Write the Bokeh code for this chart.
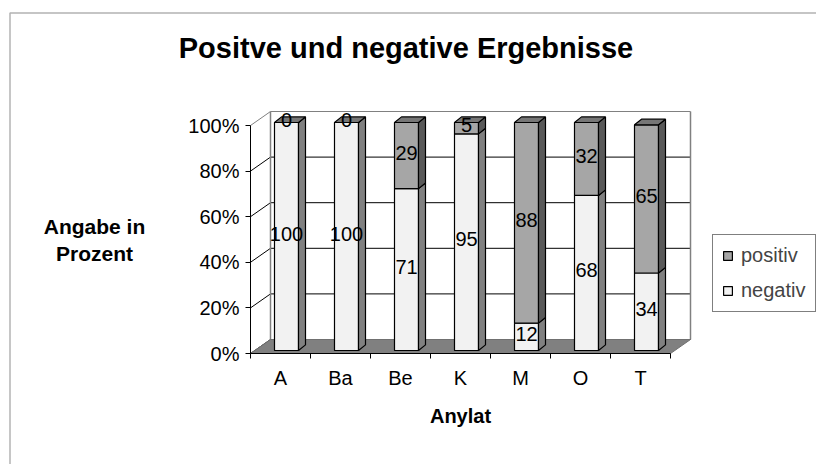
from bokeh.plotting import figure
from bokeh.models import (Range1d, FixedTicker, LinearAxis, ColumnDataSource, Label,
                          Legend, LegendItem, BoxAnnotation)
from bokeh.embed import file_html
from bokeh.resources import INLINE
from bokeh.core.properties import value

# ---------------- data ----------------
categories = ["A", "Ba", "Be", "K", "M", "O", "T"]
negativ = [100, 100, 71, 95, 12, 68, 34]
positiv = [0, 0, 29, 5, 88, 32, 65]
y_ticks = [0, 20, 40, 60, 80, 100]
y_tick_labels = ["0%", "20%", "40%", "60%", "80%", "100%"]
title_text = "Positve und negative Ergebnisse"
x_title = "Anylat"
y_title = ["Angabe in", "Prozent"]
series_names = ["positiv", "negativ"]

# ---------------- style / geometry ----------------
FONT = "Liberation Sans"
W, H = 816, 464
PXX, PXY = 60.0, 2.28            # pixels per data unit
ORG_X, ORG_Y = 250, 353          # pixel position of the front-left-bottom corner
DX, DY = 20 / PXX, 14 / PXY      # depth of the 3-D box
BX0, BW = 0.4, 0.4               # bar front face: offset inside category, width
BY0 = 3 / PXY                    # bar front face lift above floor
SDX, SDY = 7 / PXX, 5.6 / PXY    # bar depth
NEG_FRONT, NEG_SIDE = "#F2F2F2", "#808080"
POS_FRONT, POS_SIDE, POS_TOP = "#A6A6A6", "#595959", "#767676"

n = len(categories)
x0 = -0.5
p = figure(width=W, height=H, title=None,
           x_range=Range1d(x0 - ORG_X / PXX, x0 + (W - ORG_X) / PXX),
           y_range=Range1d(-(H - ORG_Y) / PXY, ORG_Y / PXY),
           x_axis_type=None, y_axis_type=None,
           output_backend="svg", toolbar_location=None,
           min_border=0, min_border_left=0, min_border_right=0,
           min_border_top=0, min_border_bottom=0)
p.outline_line_color = None
p.background_fill_color = "white"
p.border_fill_color = "white"

# outer chart border
p.add_layout(BoxAnnotation(left=x0 - (ORG_X - 9.5) / PXX, right=x0 + 20,
                           top=(ORG_Y - 12.5) / PXY, bottom=-200,
                           fill_alpha=0, line_color="black", line_width=1.5,
                           level="underlay"))

# ---------------- walls ----------------
grid_vals = y_ticks
wall_cols = ["#808080" if v == 100 else "black" for v in grid_vals]
p.segment(x0=[x0 + DX] * len(grid_vals), y0=[v + DY for v in grid_vals],
          x1=[x0 + n + DX] * len(grid_vals), y1=[v + DY for v in grid_vals],
          line_color=wall_cols, line_width=1)
p.segment(x0=[x0] * len(grid_vals), y0=grid_vals,
          x1=[x0 + DX] * len(grid_vals), y1=[v + DY for v in grid_vals],
          line_color=wall_cols, line_width=1)
p.segment(x0=[x0 + DX, x0 + n + DX], y0=[DY, DY], x1=[x0 + DX, x0 + n + DX],
          y1=[100 + DY, 100 + DY], line_color="#808080", line_width=1.5)
# floor
p.patch([x0, x0 + n, x0 + n + DX, x0 + DX], [0, 0, DY, DY],
        fill_color="#808080", line_color="#707070", line_width=1)

# ---------------- bars ----------------
lefts = [i + x0 + BX0 for i in range(n)]
rights = [l + BW for l in lefts]
neg_top = [BY0 + v for v in negativ]
pos_top = [neg_top[i] + positiv[i] for i in range(n)]

neg_r = p.quad(left=lefts, right=rights, bottom=[BY0] * n, top=neg_top,
               fill_color=NEG_FRONT, line_color="black", line_width=1.2)
p.patches([[r, r + SDX, r + SDX, r] for r in rights],
          [[BY0, BY0 + SDY, neg_top[i] + SDY, neg_top[i]] for i in range(n)],
          fill_color=NEG_SIDE, line_color="black", line_width=1.2)
pos_r = p.quad(left=lefts, right=rights, bottom=neg_top, top=pos_top,
               fill_color=POS_FRONT, line_color="black", line_width=1.2)
p.patches([[r, r + SDX, r + SDX, r] for r in rights],
          [[neg_top[i], neg_top[i] + SDY, pos_top[i] + SDY, pos_top[i]] for i in range(n)],
          fill_color=POS_SIDE, line_color="black", line_width=1.2)
p.patches([[lefts[i], lefts[i] + SDX, rights[i] + SDX, rights[i]] for i in range(n)],
          [[pos_top[i], pos_top[i] + SDY, pos_top[i] + SDY, pos_top[i]] for i in range(n)],
          fill_color=POS_TOP, line_color="black", line_width=1.2)

# ---------------- data labels ----------------
lab_x = [(lefts[i] + rights[i]) / 2 for i in range(n)] * 2
lab_y = [BY0 + SDY / 2 + negativ[i] / 2 for i in range(n)] + \
        [BY0 + SDY / 2 + negativ[i] + positiv[i] / 2 for i in range(n)]
lab_t = [str(v) for v in negativ] + [str(v) for v in positiv]
src = ColumnDataSource(dict(x=lab_x, y=lab_y, t=lab_t))
p.text(x="x", y="y", text="t", source=src, text_align="center", text_baseline="middle",
       text_font=value(FONT), text_font_size="20px", text_color="black")

# ---------------- axes (drawn at fixed data locations inside the frame) ----------------
yaxis = LinearAxis(ticker=FixedTicker(ticks=y_ticks),
                   major_label_overrides={t: l for t, l in zip(y_ticks, y_tick_labels)},
                   bounds=(0, 100), fixed_location=x0)
yaxis.major_tick_out = 5
yaxis.major_tick_in = 0
yaxis.minor_tick_out = 0
yaxis.minor_tick_in = 0
yaxis.axis_line_color = "black"
yaxis.major_tick_line_color = "black"
yaxis.major_label_text_font = FONT
yaxis.major_label_text_font_size = "20px"
yaxis.major_label_text_color = "black"
yaxis.major_label_standoff = 6
p.add_layout(yaxis, "left")

xaxis = LinearAxis(ticker=FixedTicker(ticks=list(range(n)),
                                      minor_ticks=[x0 + k for k in range(n + 1)]),
                   major_label_overrides={i: c for i, c in enumerate(categories)},
                   bounds=(x0, x0 + n), fixed_location=0)
xaxis.major_tick_out = 0
xaxis.major_tick_in = 0
xaxis.minor_tick_out = 5
xaxis.minor_tick_in = 0
xaxis.minor_tick_line_color = "black"
xaxis.axis_line_color = "black"
xaxis.major_label_text_font = FONT
xaxis.major_label_text_font_size = "20px"
xaxis.major_label_text_color = "black"
xaxis.major_label_standoff = 8
p.add_layout(xaxis, "below")

# ---------------- titles ----------------
def px_x(sx):
    return x0 + (sx - ORG_X) / PXX

def px_y(sy):
    return (ORG_Y - sy) / PXY

p.add_layout(Label(x=px_x(405.5), y=px_y(47), text=title_text, text_align="center",
                   text_baseline="middle", text_font=FONT, text_font_size="29px",
                   text_font_style="bold", text_color="black"))
p.add_layout(Label(x=px_x(460), y=px_y(415), text=x_title, text_align="center",
                   text_baseline="middle", text_font=FONT, text_font_size="20px",
                   text_font_style="bold", text_color="black"))
for t, sy in zip(y_title, [226, 253]):
    p.add_layout(Label(x=px_x(94), y=px_y(sy), text=t, text_align="center",
                       text_baseline="middle", text_font=FONT, text_font_size="21px",
                       text_font_style="bold", text_color="black"))

# ---------------- legend ----------------
legend = Legend(items=[LegendItem(label=series_names[0], renderers=[pos_r]),
                       LegendItem(label=series_names[1], renderers=[neg_r])],
                location=(712, H - 312))
legend.border_line_color = "black"
legend.border_line_width = 1
legend.background_fill_color = "white"
legend.label_text_font = FONT
legend.label_text_font_size = "20px"
legend.glyph_width = 11
legend.glyph_height = 11
legend.padding = 9
legend.spacing = 12
legend.label_standoff = 8
legend.margin = 0
p.add_layout(legend, "center")

open("out.html", "w").write(file_html(p, INLINE))
